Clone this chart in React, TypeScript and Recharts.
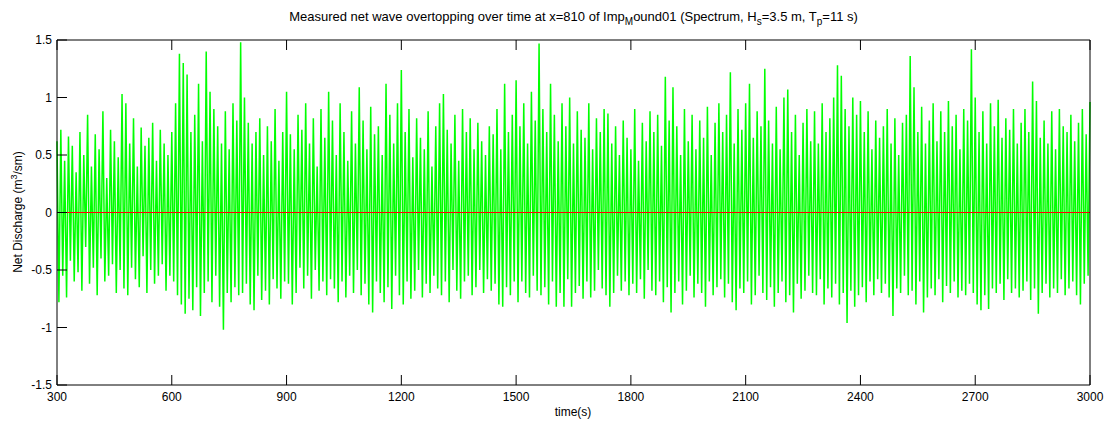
import React from 'react';
import { LineChart, Line, XAxis, YAxis, ReferenceLine } from 'recharts';

const START_TIME = 300;
const TIME_STEP = 5;
const discharge: number[] = [
    0.62, -0.78, 0.72, -0.55, 0.45, -0.74, 0.66, -0.42, 0.58, -0.6, 0.35, -0.52,
    0.7, -0.68, 0.5, -0.3, 0.85, -0.62, 0.4, -0.48, 0.68, -0.72, 0.55, -0.4,
    0.88, -0.6, 0.3, -0.55, 0.72, -0.45, 0.62, -0.7, 0.48, -0.5, 1.03, -0.66,
    0.95, -0.72, 0.6, -0.48, 0.82, -0.58, 0.4, -0.65, 0.74, -0.38, 0.58, -0.7,
    0.65, -0.5, 0.78, -0.62, 0.45, -0.55, 0.72, -0.45, 0.6, -0.68, 0.5, -0.55,
    0.7, -0.6, 0.95, -0.72, 1.38, -0.8, 1.3, -0.88, 1.2, -0.75, 0.7, -0.85,
    0.85, -0.65, 1.12, -0.9, 0.62, -0.7, 1.4, -0.6, 1.05, -0.78, 0.9, -0.55,
    0.75, -0.82, 0.6, -1.02, 0.88, -0.7, 0.55, -0.78, 0.95, -0.65, 0.8, -0.72,
    1.48, -0.7, 1.0, -0.62, 0.78, -0.8, 0.6, -0.85, 0.7, -0.55, 0.82, -0.76,
    0.5, -0.68, 0.75, -0.8, 0.62, -0.58, 0.9, -0.66, 0.45, -0.75, 0.7, -0.6,
    1.05, -0.62, 0.68, -0.8, 0.55, -0.7, 0.85, -0.48, 0.72, -0.66, 0.95, -0.55,
    0.6, -0.75, 0.82, -0.5, 0.4, -0.68, 0.9, -0.6, 0.65, -0.72, 1.05, -0.58,
    0.8, -0.66, 0.5, -0.78, 0.95, -0.6, 0.7, -0.74, 0.45, -0.55, 0.88, -0.7,
    0.6, -0.5, 1.09, -0.72, 0.8, -0.62, 0.55, -0.8, 0.92, -0.87, 0.68, -0.6,
    0.75, -0.7, 0.5, -0.78, 1.12, -0.65, 0.85, -0.84, 0.6, -0.55, 0.95, -0.72,
    1.24, -0.8, 0.7, -0.6, 0.9, -0.75, 0.48, -0.68, 0.82, -0.5, 0.65, -0.74,
    0.55, -0.62, 0.88, -0.7, 0.4, -0.55, 0.75, -0.66, 0.95, -0.72, 1.03, -0.6,
    0.72, -0.78, 0.6, -0.5, 0.85, -0.68, 0.45, -0.75, 0.9, -0.6, 0.7, -0.55,
    0.82, -0.72, 0.55, -0.65, 0.78, -0.5, 0.62, -0.7, 0.5, -0.58, 0.75, -0.68,
    0.68, -0.62, 0.9, -0.8, 0.55, -0.82, 1.12, -0.65, 0.7, -0.72, 0.85, -0.6,
    1.15, -0.78, 0.75, -0.6, 0.95, -0.7, 0.6, -0.74, 1.05, -0.55, 0.8, -0.68,
    1.47, -0.72, 0.9, -0.65, 0.7, -0.8, 1.12, -0.6, 0.85, -0.82, 0.62, -0.7,
    0.95, -0.82, 0.75, -0.58, 1.0, -0.82, 0.6, -0.7, 0.88, -0.64, 0.72, -0.75,
    0.65, -0.6, 0.95, -0.74, 0.55, -0.68, 0.82, -0.5, 0.7, -0.66, 0.9, -0.72,
    0.86, -0.82, 0.6, -0.7, 0.75, -0.55, 0.5, -0.68, 0.8, -0.6, 0.65, -0.72,
    0.55, -0.62, 0.9, -0.7, 0.45, -0.58, 0.78, -0.75, 0.62, -0.5, 0.88, -0.68,
    0.7, -0.72, 0.85, -0.6, 0.58, -0.78, 1.18, -0.65, 0.8, -0.87, 1.09, -0.7,
    0.75, -0.6, 0.5, -0.8, 0.9, -0.68, 0.62, -0.55, 0.85, -0.74, 0.55, -0.62,
    0.8, -0.7, 0.65, -0.82, 0.92, -0.6, 0.5, -0.72, 0.78, -0.65, 0.95, -0.58,
    0.7, -0.74, 0.85, -0.62, 1.22, -0.78, 0.6, -0.85, 0.9, -0.66, 0.72, -0.7,
    0.95, -0.6, 1.12, -0.8, 0.65, -0.72, 0.88, -0.55, 0.75, -0.7, 1.25, -0.76,
    0.8, -0.65, 0.6, -0.82, 0.92, -0.7, 0.55, -0.6, 1.0, -0.78, 1.07, -0.72,
    0.7, -0.87, 0.85, -0.62, 0.5, -0.75, 0.78, -0.68, 0.9, -0.55, 0.62, -0.7,
    0.88, -0.72, 0.6, -0.58, 0.95, -0.8, 0.7, -0.66, 0.82, -0.74, 1.0, -0.62,
    1.28, -0.8, 1.19, -0.7, 0.9, -0.96, 0.75, -0.68, 1.0, -0.82, 0.85, -0.72,
    0.97, -0.65, 0.7, -0.78, 0.88, -0.6, 0.55, -0.72, 0.8, -0.58, 0.65, -0.7,
    0.75, -0.62, 0.9, -0.74, 0.6, -0.9, 0.82, -0.66, 0.5, -0.7, 0.78, -0.55,
    0.85, -0.72, 1.36, -0.68, 1.09, -0.8, 0.7, -0.6, 0.92, -0.87, 0.6, -0.74,
    0.8, -0.66, 0.95, -0.72, 0.62, -0.58, 0.88, -0.78, 0.7, -0.64, 0.97, -0.7,
    0.75, -0.6, 0.85, -0.74, 0.55, -0.68, 0.9, -0.72, 0.8, -0.62, 1.42, -0.7,
    1.0, -0.8, 0.7, -0.85, 0.88, -0.72, 0.6, -0.84, 0.95, -0.66, 0.75, -0.7,
    0.98, -0.62, 0.65, -0.76, 0.82, -0.58, 0.72, -0.7, 0.9, -0.66, 0.6, -0.74,
    0.78, -0.68, 0.9, -0.6, 0.7, -0.76, 1.14, -0.66, 0.97, -0.88, 0.65, -0.7,
    0.8, -0.62, 0.6, -0.74, 0.88, -0.66, 0.55, -0.7, 0.9, -0.58, 0.75, -0.72,
    0.7, -0.66, 0.85, -0.6, 0.62, -0.72, 0.78, -0.8, 0.9, -0.62, 0.68, -0.55,
    0.96,
];

const timeTicks = [300, 600, 900, 1200, 1500, 1800, 2100, 2400, 2700, 3000];
const dischargeTicks = [-1.5, -1, -0.5, 0, 0.5, 1, 1.5];

const data = discharge.map((q, i) => ({ time: START_TIME + i * TIME_STEP, q }));

const FONT = '"Liberation Sans", Arial, Helvetica, sans-serif';
const AXIS = '#000000';
const TICK_LEN = 10;

const BottomTick = (props: any) => {
    const { x, y, payload } = props;
    return (
        <g>
            <line x1={x} y1={y} x2={x} y2={y - TICK_LEN} stroke={AXIS} />
            <text x={x} y={y + 16} textAnchor="middle" fontSize={12} fontFamily={FONT} fill="#000">
                {payload.value}
            </text>
        </g>
    );
};

const TopTick = (props: any) => {
    const { x, y } = props;
    return <line x1={x} y1={y} x2={x} y2={y + TICK_LEN} stroke={AXIS} />;
};

const LeftTick = (props: any) => {
    const { x, y, payload } = props;
    return (
        <g>
            <line x1={x} y1={y} x2={x + TICK_LEN} y2={y} stroke={AXIS} />
            <text x={x - 5} y={y + 4} textAnchor="end" fontSize={12} fontFamily={FONT} fill="#000">
                {payload.value}
            </text>
        </g>
    );
};

const RightTick = (props: any) => {
    const { x, y } = props;
    return <line x1={x} y1={y} x2={x - TICK_LEN} y2={y} stroke={AXIS} />;
};

const App: React.FC = () => {
    return (
        <div style={{ position: 'absolute', left: 0, top: 0, width: 1107, height: 421, background: '#fff', fontFamily: FONT }}>
            <LineChart width={1107} height={421} data={data} margin={{ top: 0, right: 0, bottom: 0, left: 0 }}>
                <XAxis
                    dataKey="time"
                    type="number"
                    domain={[300, 3000]}
                    ticks={timeTicks}
                    interval={0}
                    height={36}
                    tickSize={0}
                    tickMargin={0}
                    stroke={AXIS}
                    tick={BottomTick}
                />
                <XAxis
                    xAxisId="top"
                    dataKey="time"
                    type="number"
                    orientation="top"
                    domain={[300, 3000]}
                    ticks={timeTicks}
                    interval={0}
                    height={40}
                    tickSize={0}
                    tickMargin={0}
                    stroke={AXIS}
                    tick={TopTick}
                />
                <YAxis
                    type="number"
                    domain={[-1.5, 1.5]}
                    ticks={dischargeTicks}
                    interval={0}
                    width={57}
                    tickSize={0}
                    tickMargin={0}
                    stroke={AXIS}
                    tick={LeftTick}
                />
                <YAxis
                    yAxisId="right"
                    orientation="right"
                    type="number"
                    domain={[-1.5, 1.5]}
                    ticks={dischargeTicks}
                    interval={0}
                    width={17}
                    tickSize={0}
                    tickMargin={0}
                    stroke={AXIS}
                    tick={RightTick}
                />
                <Line
                    type="linear"
                    dataKey="q"
                    stroke="#00ff00"
                    strokeWidth={1.5}
                    strokeLinejoin="miter"
                    dot={false}
                    isAnimationActive={false}
                />
                <ReferenceLine y={0} stroke="#ff0000" strokeWidth={1} />
            </LineChart>
            <div style={{ position: 'absolute', left: 57, width: 1033, top: 9, textAlign: 'center', fontSize: 13, color: '#000', whiteSpace: 'nowrap' }}>
                Measured net wave overtopping over time at x=810 of Imp<sub style={{ fontSize: 10 }}>M</sub>ound01 (Spectrum, H<sub style={{ fontSize: 10 }}>s</sub>=3.5 m, T<sub style={{ fontSize: 10 }}>p</sub>=11 s)
            </div>
            <div style={{ position: 'absolute', left: 573, top: 405, transform: 'translateX(-50%)', fontSize: 12, color: '#000' }}>
                time(s)
            </div>
            <div style={{ position: 'absolute', left: 17, top: 212, transform: 'translate(-50%, -50%) rotate(-90deg)', fontSize: 12, color: '#000', whiteSpace: 'nowrap' }}>
                Net Discharge (m<sup style={{ fontSize: 9 }}>3</sup>/sm)
            </div>
        </div>
    );
};

export default App;
